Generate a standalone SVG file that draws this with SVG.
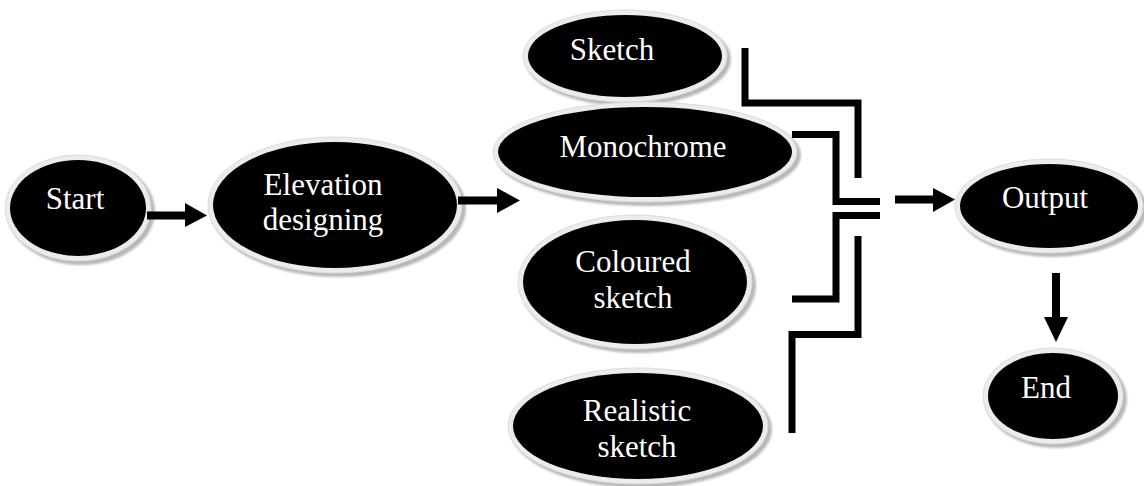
<svg xmlns="http://www.w3.org/2000/svg" width="1144" height="486" viewBox="0 0 1144 486">
  <defs>
    <filter id="soft" x="-10%" y="-10%" width="120%" height="120%">
      <feGaussianBlur stdDeviation="1"/>
    </filter>
  </defs>
  <style>
    .shadow { fill: #b8b8b8; filter: url(#soft); }
    .ring { fill: #ececec; stroke: #dcdcdc; stroke-width: 1; }
    .body { fill: #000000; }
    .label { fill: #ffffff; font-size: 31px; text-anchor: middle; }
    .link { fill: none; stroke: #000000; stroke-width: 7; stroke-linejoin: miter; stroke-linecap: butt; }
    .shaft { fill: none; stroke: #000000; stroke-width: 8; }
    .head { fill: #000000; }
  </style>

  <rect width="1144" height="486" fill="#ffffff"/>

  <g font-family="Liberation Serif, Times New Roman, DejaVu Serif, serif">
  <!-- Start -->
  <g id="start">
    <ellipse class="shadow" cx="81" cy="211" rx="74" ry="54"/>
    <ellipse class="ring" cx="78" cy="208" rx="73" ry="53"/>
    <ellipse class="body" cx="78" cy="208" rx="68" ry="48"/>
    <text class="label" x="75" y="209">Start</text>
  </g>

  <!-- Elevation designing -->
  <g id="elevation">
    <ellipse class="shadow" cx="338" cy="208" rx="128" ry="69"/>
    <ellipse class="ring" cx="335" cy="205" rx="127" ry="68"/>
    <ellipse class="body" cx="335" cy="205" rx="122" ry="63"/>
    <text class="label" x="323" y="195">Elevation</text>
    <text class="label" x="323" y="230">designing</text>
  </g>

  <!-- Sketch -->
  <g id="sketch">
    <ellipse class="shadow" cx="628" cy="59" rx="103" ry="47"/>
    <ellipse class="ring" cx="625" cy="56" rx="102" ry="46"/>
    <ellipse class="body" cx="625" cy="56" rx="97" ry="41"/>
    <text class="label" x="612" y="60">Sketch</text>
  </g>

  <!-- Monochrome -->
  <g id="monochrome">
    <ellipse class="shadow" cx="648" cy="155" rx="153" ry="51"/>
    <ellipse class="ring" cx="645" cy="152" rx="152" ry="50"/>
    <ellipse class="body" cx="645" cy="152" rx="147" ry="45"/>
    <text class="label" x="643" y="157">Monochrome</text>
  </g>

  <!-- Coloured sketch -->
  <g id="coloured">
    <ellipse class="shadow" cx="638" cy="285" rx="118" ry="68"/>
    <ellipse class="ring" cx="635" cy="282" rx="117" ry="67"/>
    <ellipse class="body" cx="635" cy="282" rx="112" ry="62"/>
    <text class="label" x="633" y="272">Coloured</text>
    <text class="label" x="633" y="308">sketch</text>
  </g>

  <!-- Realistic sketch -->
  <g id="realistic">
    <ellipse class="shadow" cx="641" cy="429" rx="131" ry="59"/>
    <ellipse class="ring" cx="638" cy="426" rx="130" ry="58"/>
    <ellipse class="body" cx="638" cy="426" rx="125" ry="53"/>
    <text class="label" x="637" y="421">Realistic</text>
    <text class="label" x="637" y="457">sketch</text>
  </g>

  <!-- Output -->
  <g id="output">
    <ellipse class="shadow" cx="1052" cy="209" rx="95" ry="48"/>
    <ellipse class="ring" cx="1049" cy="206" rx="94" ry="47"/>
    <ellipse class="body" cx="1049" cy="206" rx="89" ry="42"/>
    <text class="label" x="1045" y="208">Output</text>
  </g>

  <!-- End -->
  <g id="end">
    <ellipse class="shadow" cx="1056" cy="399" rx="71" ry="49"/>
    <ellipse class="ring" cx="1053" cy="396" rx="70" ry="48"/>
    <ellipse class="body" cx="1053" cy="396" rx="65" ry="43"/>
    <text class="label" x="1046" y="398">End</text>
  </g>
  </g>

  <!-- Connectors -->
  <g id="connectors">
    <!-- Start to Elevation designing -->
    <line class="shaft" x1="147" y1="215.5" x2="186" y2="215.5"/>
    <polygon class="head" points="185,203 207,215.5 185,227"/>

    <!-- Elevation designing to the style options -->
    <line class="shaft" x1="458" y1="200.5" x2="498" y2="200.5"/>
    <polygon class="head" points="497,188 520,200.5 497,213"/>

    <!-- Bracket lines gathering the four styles -->
    <path class="link" d="M745,48 V103 H858 V178"/>
    <path class="link" d="M792,134.5 H836 V201.5 H880"/>
    <path class="link" d="M880,215.5 H836 V299 H792"/>
    <path class="link" d="M858,236 V334.5 H792 V433"/>

    <!-- Styles to Output -->
    <line class="shaft" x1="895" y1="199.5" x2="934" y2="199.5"/>
    <polygon class="head" points="933,188 955,199.5 933,212"/>

    <!-- Output to End -->
    <line class="shaft" x1="1056" y1="273" x2="1056" y2="318"/>
    <polygon class="head" points="1044,317 1068,317 1056,342"/>
  </g>
</svg>
